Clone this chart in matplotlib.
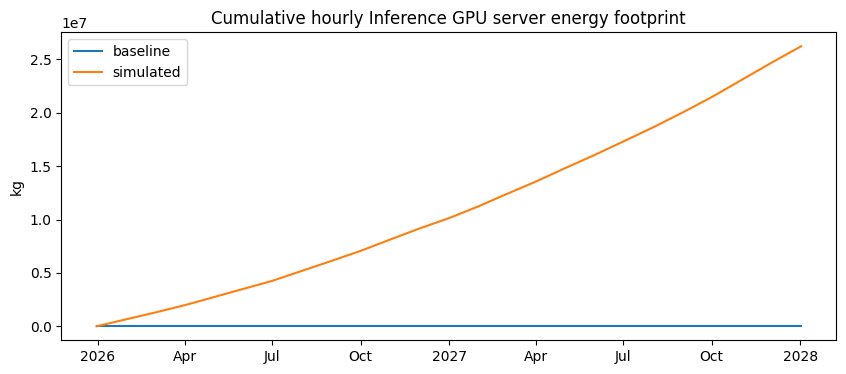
import matplotlib
matplotlib.use("Agg")
import matplotlib.pyplot as plt
import matplotlib.dates as mdates
import numpy as np
import pandas as pd

dates = list(pd.date_range("2026-02-01", "2027-12-01", freq="MS"))
dates = [pd.Timestamp("2025-12-30 12:00")] + dates + [pd.Timestamp("2028-01-02")]
simulated = [0.0, 0.069, 0.128, 0.197, 0.272, 0.35, 0.425, 0.519, 0.613, 0.706, 0.813, 0.915,
             1.013, 1.125, 1.235, 1.354, 1.478, 1.603, 1.73, 1.862, 2.003, 2.146, 2.306, 2.462, 2.622]
simulated = [v * 1e7 for v in simulated]
baseline = [0.0] * len(dates)

fig = plt.figure(figsize=(8.46, 3.74), dpi=100)
ax = fig.add_axes([61.3/846, 1-340.3/374, (836.3-61.3)/846, (340.3-32.3)/374])
ax.plot(dates, baseline, label="baseline")
ax.plot(dates, simulated, label="simulated")
ax.set_title("Cumulative hourly Inference GPU server energy footprint")
ax.set_ylabel("kg")
ax.xaxis.set_major_locator(mdates.MonthLocator(bymonth=[1, 4, 7, 10]))

def fmt(x, pos):
    d = mdates.num2date(x)
    return str(d.year) if d.month == 1 else d.strftime("%b")

ax.xaxis.set_major_formatter(plt.FuncFormatter(fmt))
ax.legend(loc="upper left")
fig.savefig("out.png", dpi=100)
